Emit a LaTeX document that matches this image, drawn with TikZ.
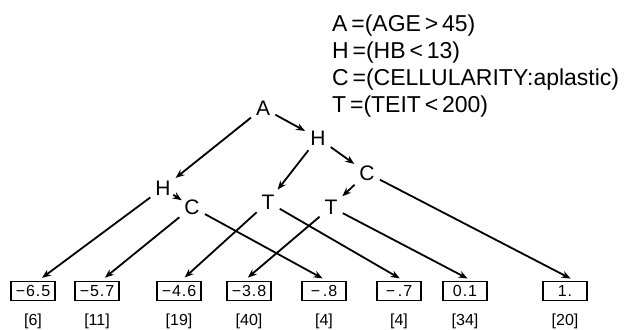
\documentclass[tikz,border=0pt]{standalone}
\usepackage{fontspec}
\setmainfont{Liberation Sans}
\newfontfamily\widefont[LetterSpace=6]{Liberation Sans}
\usetikzlibrary{arrows.meta}
\begin{document}
\begin{tikzpicture}[x=1pt,y=-1pt,
  var/.style={inner sep=2.5pt, font=\fontsize{21}{21}\selectfont},
  leaf/.style={draw, line width=1.3pt, minimum width=44pt, minimum height=19pt, inner sep=0pt, font=\widefont\fontsize{16}{16}\selectfont},
  cnt/.style={inner sep=0pt, font=\fontsize{16}{16}\selectfont},
  deftext/.style={anchor=base west, inner sep=0pt, font=\fontsize{23}{23}\selectfont},
  edge/.style={line width=1.8pt, -{Stealth[length=9pt,width=7pt]}, shorten <=3pt, shorten >=3pt},
  ledge/.style={edge, shorten >=5pt}]
\useasboundingbox (0,0) rectangle (628,329);
% definitions
\node[deftext] (d1) at (332,31) {A\,=(AGE\,>\,45)};
\node[deftext] (d2) at (332,58) {H\,=(HB\,<\,13)};
\node[deftext] (d3) at (332,85) {C\,=(CELLULARITY:aplastic)};
\node[deftext] (d4) at (332,112) {T\,=(TEIT\,<\,200)};
% tree nodes
\node[var] (A)  at (263,108) {A};
\node[var] (H1) at (318,138) {H};
\node[var] (C1) at (367,173) {C};
\node[var] (H2) at (163,188) {H};
\node[var] (C2) at (192,207) {C};
\node[var] (T1) at (268,202) {T};
\node[var] (T2) at (331,207) {T};
% leaves
\node[leaf] (l1) at (33,291)  {−6.5};
\node[leaf] (l2) at (97,291)  {−5.7};
\node[leaf] (l3) at (179,291) {−4.6};
\node[leaf] (l4) at (249,291) {−3.8};
\node[leaf] (l5) at (324,291) {−\,.8};
\node[leaf] (l6) at (399,291) {−\,.7};
\node[leaf] (l7) at (465,291) {0.1};
\node[leaf] (l8) at (565,291) {1.};
\node[cnt] (n1) at (33,321)  {[6]};
\node[cnt] (n2) at (97,321)  {[11]};
\node[cnt] (n3) at (179,321) {[19]};
\node[cnt] (n4) at (249,321) {[40]};
\node[cnt] (n5) at (324,321) {[4]};
\node[cnt] (n6) at (399,321) {[4]};
\node[cnt] (n7) at (465,321) {[34]};
\node[cnt] (n8) at (565,321) {[20]};
% edges
\draw[edge] (A) -- (H1);
\draw[edge] (A) -- (H2);
\draw[edge] (H1) -- (T1);
\draw[edge] (H1) -- (C1);
\draw[edge] (C1) -- (T2);
\draw[edge, shorten <=0pt, shorten >=0pt] (H2) -- (C2);
\draw[ledge] (H2) -- ([xshift=5pt]l1.north);
\draw[ledge] (C2) -- ([xshift=4pt]l2.north);
\draw[ledge] (C2) -- ([xshift=3pt]l5.north);
\draw[ledge] (T1) -- ([xshift=2pt]l3.north);
\draw[ledge] (T1) -- ([xshift=5pt]l6.north);
\draw[ledge] (T2) -- ([xshift=-5pt]l4.north);
\draw[ledge] (T2) -- ([xshift=7pt]l7.north);
\draw[ledge] (C1) -- ([xshift=10pt]l8.north);
\end{tikzpicture}
\end{document}
